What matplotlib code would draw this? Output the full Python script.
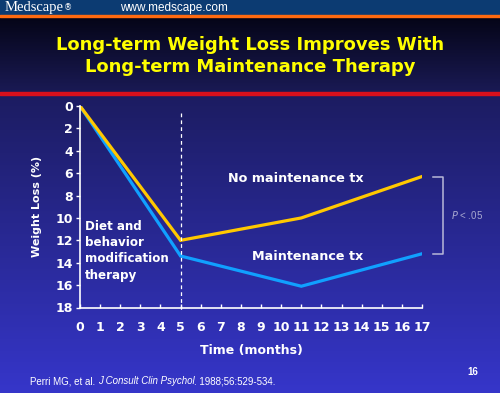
import numpy as np
import matplotlib
matplotlib.use("Agg")
import matplotlib.pyplot as plt

months = [0, 5, 11, 17]
no_maint = [0, 12.0, 10.0, 6.3]
maint = [0, 13.4, 16.1, 13.2]
xticks = list(range(0, 18))
yticks = list(range(0, 19, 2))

W, H = 500, 393
fig = plt.figure(figsize=(W / 100, H / 100), dpi=100)

# background: header bar, dark title band, blue gradient body
bg = fig.add_axes([0, 0, 1, 1])
bg.set_xlim(0, W)
bg.set_ylim(H, 0)
bg.axis("off")
top = np.linspace(0, 1, 100)[:, None]
c1 = np.array([0.02, 0.02, 0.09])
c2 = np.array([0.10, 0.10, 0.33])
band = c1 + (c2 - c1) * top[..., None]
bg.imshow(np.repeat(band, 2, axis=1), extent=[0, W, 92, 17], aspect="auto")
b1 = np.array([0.11, 0.11, 0.38])
b2 = np.array([0.21, 0.21, 0.79])
body = b1 + (b2 - b1) * top[..., None]
bg.imshow(np.repeat(body, 2, axis=1), extent=[0, W, H, 94], aspect="auto")
bg.fill_between([0, W], 0, 15, color="#0c3b72")
bg.fill_between([0, W], 15, 17, color="#ff6a10")
bg.fill_between([0, W], 92, 94.5, color="#d8101c")

logo = fig.text(5 / W, 1 - 8 / H, "Medscape", color="white", fontsize=10.5,
                family="Liberation Serif", va="center", ha="left")
bg.annotate("®", xy=(1, 0.55), xycoords=logo, color="white", fontsize=6,
            va="center", ha="left", annotation_clip=False)
fig.text(0.24, 1 - 8 / H, "www.medscape.com", color="white", fontsize=8.5,
         family="Liberation Sans", va="center")

fig.text(0.5, 1 - 45 / H, "Long-term Weight Loss Improves With", color="#ffff00",
         fontsize=13, weight="bold", ha="center", va="center")
fig.text(0.5, 1 - 67 / H, "Long-term Maintenance Therapy", color="#ffff00",
         fontsize=13, weight="bold", ha="center", va="center")

ax = fig.add_axes([80 / W, 1 - 307.5 / H, 342 / W, 201.5 / H])
ax.patch.set_alpha(0)
ax.plot(months, maint, color="#10a0ff", lw=2.3, solid_joinstyle="miter")
ax.plot(months, no_maint, color="#ffc800", lw=2.3, solid_joinstyle="miter")
ax.plot([5, 5], [0.6, 18.4], color="white", lw=0.9, ls=(0, (3, 2.5)), clip_on=False)

ax.set_xlim(0, 17)
ax.set_ylim(18, 0)
ax.set_xticks(xticks)
ax.set_yticks(yticks)
for s in ["top", "right"]:
    ax.spines[s].set_visible(False)
for s in ["left", "bottom"]:
    ax.spines[s].set_color("white")
    ax.spines[s].set_linewidth(1.2)
ax.tick_params(axis="x", direction="in", length=3, width=1, colors="white",
               labelsize=9, pad=10)
ax.tick_params(axis="y", direction="out", length=3, width=1, colors="white",
               labelsize=9, pad=2)
for lab in ax.get_xticklabels() + ax.get_yticklabels():
    lab.set_fontweight("bold")

ax.set_xlabel("Time (months)", color="white", fontsize=9, weight="bold", labelpad=7)
ax.set_ylabel("Weight Loss (%)", color="white", fontsize=8, weight="bold", labelpad=10)

ax.text(7.35, 6.45, "No maintenance tx", color="white", fontsize=9.2, weight="bold",
        va="center", ha="left")
ax.text(8.55, 13.4, "Maintenance tx", color="white", fontsize=9.2, weight="bold",
        va="center", ha="left")
ax.text(0.25, 10.15, "Diet and\nbehavior\nmodification\ntherapy", color="white",
        fontsize=8.6, weight="bold", va="top", ha="left", linespacing=1.34)

# significance bracket
bx = [17.55, 18.05, 18.05, 17.55]
by = [6.3, 6.3, 13.2, 13.2]
ax.plot(bx, by, color="#b8b8d8", lw=1.1, clip_on=False)
ax.text(18.45, 9.75, "$P$ < .05", color="#a8a8d0", fontsize=7,
        family="Liberation Sans", va="center", ha="left")

# citation in three pieces on one baseline
renderer = fig.canvas.get_renderer()
cite_y = 1 - 384 / H
x = 30
for piece, st in [("Perri MG, et al. ", "normal"), ("J Consult Clin Psychol", "italic"),
                  (". 1988;56:529-534.", "normal")]:
    t = fig.text(x / W, cite_y, piece, color="white", fontsize=7, style=st,
                 family="Liberation Sans", va="baseline", ha="left")
    x = t.get_window_extent(renderer).x1
fig.text(473 / W, 1 - 372 / H, "16", color="white", fontsize=7, weight="bold",
         family="Liberation Sans", va="center", ha="center")

fig.savefig("out.png", dpi=100)
